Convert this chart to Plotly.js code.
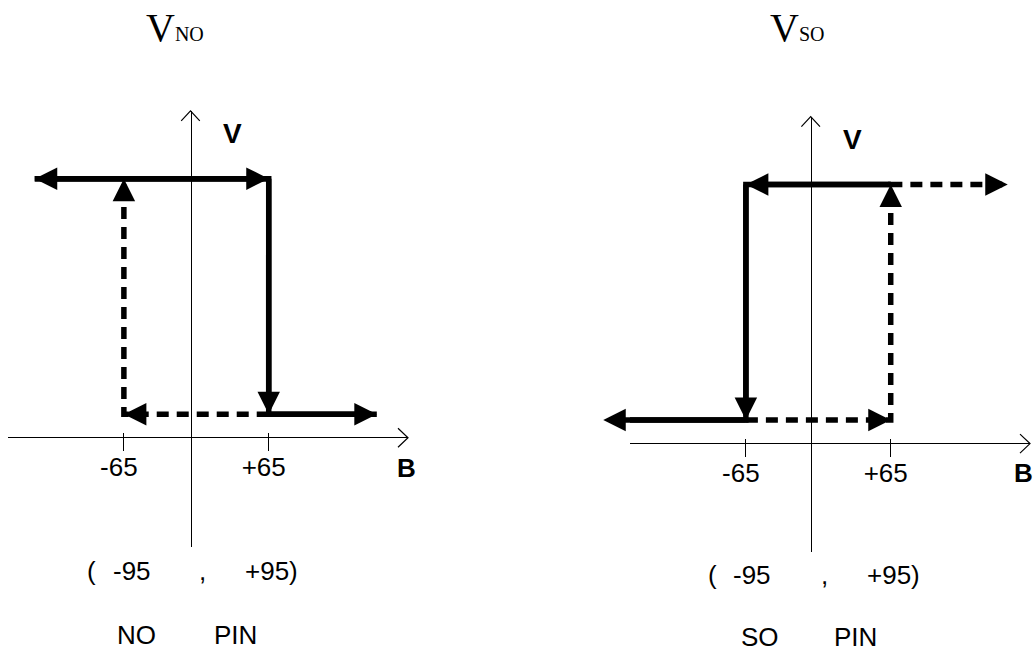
<!DOCTYPE html>
<html>
<head>
<meta charset="utf-8">
<script src="https://cdn.plot.ly/plotly-3.0.1.min.js"></script>
<style>
	html, body { margin: 0; padding: 0; background: #fff; }
	#chart { width: 1035px; height: 653px; }
</style>
</head>
<body>
<div id="chart"></div>
<script>
// Axes: magnetic field B and output level V
const bRange = [-169, 190]
const vRange = [-4.62, 13.88]
const bTicks = [-65, 65]
const bTickText = ['-65', '+65']

// NO pin switching path (solid part, dashed part, vertices that carry an arrowhead)
const noSolidB = [-145, 65, 65, 162]
const noSolidV = [11, 11, 1, 1]
const noSolidHeads = [0, 1, 2, 3]
const noDashB = [65, -65, -65]
const noDashV = [1, 1, 11]
const noDashHeads = [1, 2]

// SO pin switching path
const soSolidB = [65, -65, -65, -193]
const soSolidV = [11, 11, 1, 1]
const soSolidHeads = [1, 2, 3]
const soDashB = [-65, 65, 65, 170]
const soDashV = [1, 1, 11, 11]
const soDashHeads = [1, 2, 3]

// Texts
const titles = ['V<span style="font-size:20px">NO</span>', 'V<span style="font-size:20px">SO</span>']
const rangeText = ['(', '-95', ',', '+95)']
const pinText = [['NO', 'PIN'], ['SO', 'PIN']]

const W = 1035, H = 653
const SANS = 'Liberation Sans, Arial, sans-serif'
const SERIF = 'Liberation Serif, Times New Roman, serif'

/** Pixel placement of the two panels */
const panels = [
	{ sfx: '', xd: [8, 408], yd: [110.9, 546.6], vLine: 190.5, title: [175, 27.5], vLabel: [232.5, 133.5], bLabel: [406.5, 467.5],
		range: [86, 112, 198, 244], rangeY: 571, pin: [116, 213], pinY: 635 },
	{ sfx: '2', xd: [630, 1030], yd: [116.7, 552.4], vLine: 810.7, title: [796.5, 27.5], vLabel: [852.5, 139], bLabel: [1023, 473],
		range: [707, 732, 820, 866], rangeY: 575, pin: [740, 833], pinY: 637 },
]

const paths = [
	{ solid: [noSolidB, noSolidV, noSolidHeads], dash: [noDashB, noDashV, noDashHeads] },
	{ solid: [soSolidB, soSolidV, soSolidHeads], dash: [soDashB, soDashV, soDashHeads] },
]

function pathTrace(b, v, sfx, dash) {
	return {
		x: b, y: v, xaxis: 'x' + sfx, yaxis: 'y' + sfx,
		type: 'scatter', mode: 'lines', hoverinfo: 'skip', showlegend: false,
		line: { color: 'black', width: 5.5, dash: dash },
	}
}

/** Filled arrowheads at the given vertices, pointing along the path */
function heads(b, v, idx, sfx, dashed) {
	return idx.map(i => {
		const j = i === 0 ? 1 : i - 1
		const a = {
			x: b[i], y: v[i], xref: 'x' + sfx, yref: 'y' + sfx,
			text: '', showarrow: true, arrowhead: 2, arrowwidth: 5.5, arrowsize: 0.818,
			arrowcolor: 'black', borderpad: 0, borderwidth: 0, font: { size: 1 },
		}
		if (dashed) {
			// short tail hidden under the head so the dashes stay visible
			a.axref = 'pixel'; a.ayref = 'pixel'
			a.ax = Math.sign(b[j] - b[i]) * 16
			a.ay = -Math.sign(v[j] - v[i]) * 16
		} else {
			a.axref = 'x' + sfx; a.ayref = 'y' + sfx
			a.ax = b[j]; a.ay = v[j]
		}
		return a
	})
}

function label(text, x, y, font, xanchor) {
	return {
		text: text, x: x / W, y: 1 - y / H, xref: 'paper', yref: 'paper',
		xanchor: xanchor || 'center', yanchor: 'middle', showarrow: false, borderpad: 0, font: font,
	}
}

const data = []
const annotations = []
const shapes = []
const layout = {
	width: W, height: H, margin: { l: 0, r: 0, t: 0, b: 0 },
	paper_bgcolor: 'white', plot_bgcolor: 'rgba(0,0,0,0)', showlegend: false,
}

panels.forEach((p, k) => {
	const xd = [p.xd[0] / W, p.xd[1] / W]
	const yd = [1 - p.yd[1] / H, 1 - p.yd[0] / H]
	const zero = yd[0] + (0 - vRange[0]) / (vRange[1] - vRange[0]) * (yd[1] - yd[0])

	layout['xaxis' + p.sfx] = {
		domain: xd, range: bRange, anchor: 'free', position: zero + 6 / H,
		showline: false, showgrid: false, zeroline: false, fixedrange: true,
		ticks: 'outside', ticklen: 18, tickwidth: 1.2, tickcolor: 'black',
		tickmode: 'array', tickvals: bTicks, ticktext: bTickText,
		tickfont: { family: SANS, size: 26, color: 'black' },
		ticklabelshift: -5, ticklabelstandoff: -6,
	}
	layout['yaxis' + p.sfx] = {
		domain: yd, range: vRange, anchor: 'free', position: p.vLine / W,
		showline: true, linecolor: 'black', linewidth: 1.2,
		showgrid: false, zeroline: true, zerolinecolor: 'black', zerolinewidth: 1.2,
		ticks: '', showticklabels: false, fixedrange: true,
	}

	const path = paths[k]
	data.push(pathTrace(path.solid[0], path.solid[1], p.sfx, 'solid'))
	data.push(pathTrace(path.dash[0], path.dash[1], p.sfx, '12px,8px'))
	annotations.push(...heads(path.solid[0], path.solid[1], path.solid[2], p.sfx, false))
	annotations.push(...heads(path.dash[0], path.dash[1], path.dash[2], p.sfx, true))

	// open arrow tips on the axes
	const thin = { color: 'black', width: 1.2 }
	shapes.push({
		type: 'path', xref: 'x' + p.sfx + ' domain', yref: 'paper', xsizemode: 'pixel', ysizemode: 'pixel',
		xanchor: 1, yanchor: zero, path: 'M-10,9.5L0,0L-10,-9.5', line: thin, fillcolor: 'rgba(0,0,0,0)',
	})
	shapes.push({
		type: 'path', xref: 'paper', yref: 'y' + p.sfx + ' domain', xsizemode: 'pixel', ysizemode: 'pixel',
		xanchor: p.vLine / W, yanchor: 1, path: 'M-9.3,-10L0,0L9.3,-10', line: thin, fillcolor: 'rgba(0,0,0,0)',
	})

	const txt = { family: SANS, size: 26, color: 'black' }
	const bold = { family: SANS, size: 26, color: 'black', weight: 'bold' }
	annotations.push(label(titles[k], p.title[0], p.title[1], { family: SERIF, size: 40, color: 'black' }))
	annotations.push(label('V', p.vLabel[0], p.vLabel[1], Object.assign({}, bold, { size: 28 })))
	annotations.push(label('B', p.bLabel[0], p.bLabel[1], bold))
	rangeText.forEach((t, i) => annotations.push(label(t, p.range[i], p.rangeY, txt, 'left')))
	pinText[k].forEach((t, i) => annotations.push(label(t, p.pin[i], p.pinY, txt, 'left')))
})

layout.annotations = annotations
layout.shapes = shapes

Plotly.newPlot('chart', data, layout, { displayModeBar: false })
</script>
</body>
</html>
